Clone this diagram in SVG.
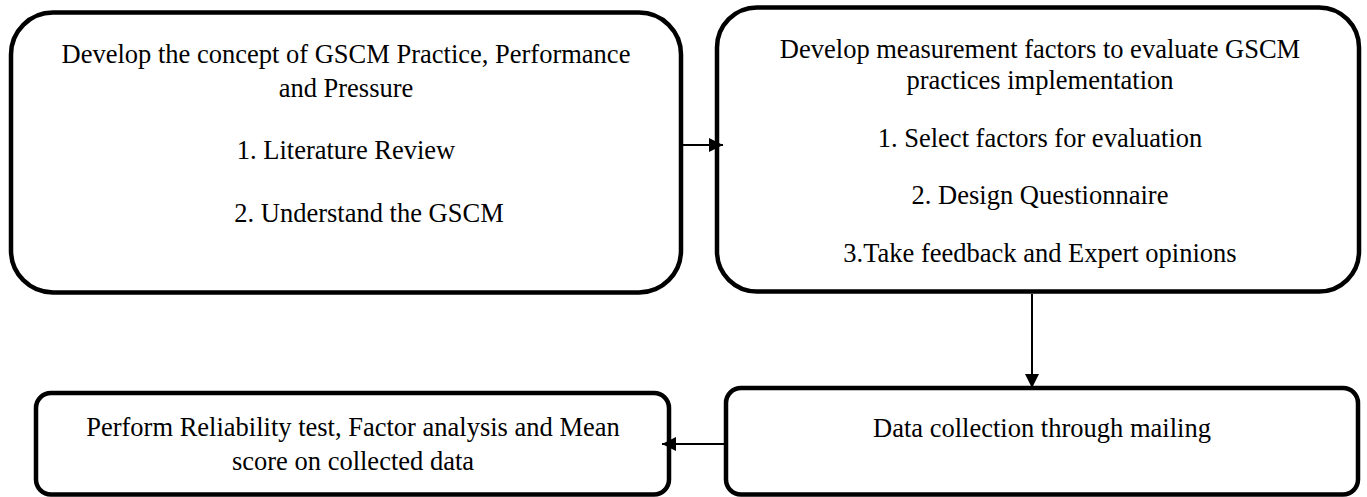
<svg xmlns="http://www.w3.org/2000/svg" width="1367" height="497" viewBox="0 0 1367 497">
<style>
.box{fill:#fff;stroke:#000;stroke-width:4.5}
.t{font-family:"Liberation Serif","Times New Roman",serif;font-size:26.5px;fill:#000;text-anchor:middle}
.c{stroke:#000;stroke-width:2;fill:none}
</style>
<defs>
<marker id="ah" markerUnits="userSpaceOnUse" markerWidth="16" markerHeight="16" refX="14" refY="7" orient="auto">
<path d="M0,0 L14,7 L0,14 z" fill="#000"/>
</marker>
</defs>
<rect width="1367" height="497" fill="#fff"/>
<g id="node1">
<rect class="box" x="11" y="12.5" width="670" height="280" rx="42" ry="42"/>
<text class="t" x="346" y="63">Develop the concept of GSCM Practice, Performance</text>
<text class="t" x="346" y="97">and Pressure</text>
<text class="t" x="346" y="159">1. Literature Review</text>
<text class="t" x="369" y="222">2. Understand the GSCM</text>
</g>
<g id="node2">
<rect class="box" x="717" y="7.5" width="642" height="284" rx="40" ry="40"/>
<text class="t" x="1040" y="58">Develop measurement factors to evaluate GSCM</text>
<text class="t" x="1040" y="89">practices implementation</text>
<text class="t" x="1040" y="147">1. Select factors for evaluation</text>
<text class="t" x="1040" y="204">2. Design Questionnaire</text>
<text class="t" x="1040" y="262">3.Take feedback and Expert opinions</text>
</g>
<g id="node3">
<rect class="box" x="726" y="388" width="632" height="106.5" rx="15" ry="15"/>
<text class="t" x="1042" y="437">Data collection through mailing</text>
</g>
<g id="node4">
<rect class="box" x="36" y="393" width="633" height="101.5" rx="15" ry="15"/>
<text class="t" x="353" y="436">Perform Reliability test, Factor analysis and Mean</text>
<text class="t" x="353" y="470">score on collected data</text>
</g>
<g id="connectors">
<line class="c" x1="683" y1="145" x2="723" y2="145" marker-end="url(#ah)"/>
<line class="c" x1="1032" y1="294" x2="1032" y2="388" marker-end="url(#ah)"/>
<line class="c" x1="724" y1="444" x2="662" y2="444" marker-end="url(#ah)"/>
</g>
</svg>
